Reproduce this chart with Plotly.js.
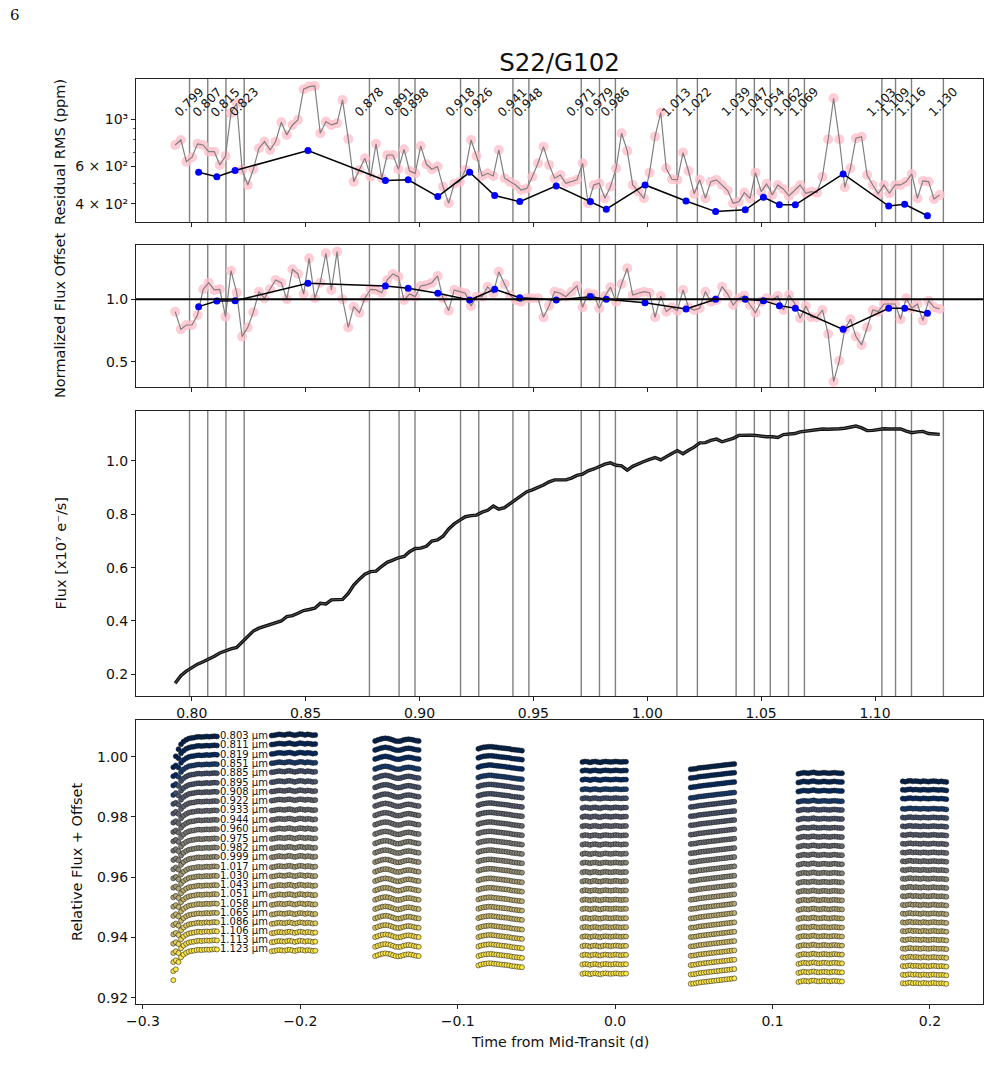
<!DOCTYPE html>
<html><head><meta charset="utf-8">
<script src="https://cdn.plot.ly/plotly-3.0.1.min.js"></script>
<style>body{margin:0;background:#fff}#chart{width:991px;height:1084px}</style>
</head><body><div id="chart"></div>
<script>
// ---------- spectral channels (micron) ----------
const wave = [0.7927,0.7952,0.7976,0.8001,0.8025,0.8050,0.8074,0.8099,0.8123,0.8148,0.8172,0.8197,0.8221,0.8246,0.8270,0.8295,0.8319,0.8344,0.8368,0.8393,0.8417,0.8442,0.8466,0.8491,0.8515,0.8540,0.8564,0.8589,0.8613,0.8638,0.8662,0.8687,0.8711,0.8736,0.8760,0.8785,0.8809,0.8834,0.8858,0.8883,0.8907,0.8932,0.8956,0.8981,0.9005,0.9030,0.9054,0.9079,0.9103,0.9128,0.9152,0.9177,0.9201,0.9226,0.9250,0.9275,0.9299,0.9324,0.9348,0.9373,0.9397,0.9422,0.9446,0.9471,0.9495,0.9520,0.9544,0.9569,0.9593,0.9618,0.9642,0.9667,0.9691,0.9716,0.9740,0.9765,0.9789,0.9814,0.9838,0.9863,0.9887,0.9912,0.9936,0.9961,0.9985,1.0010,1.0034,1.0059,1.0083,1.0108,1.0132,1.0157,1.0181,1.0206,1.0230,1.0255,1.0279,1.0304,1.0328,1.0353,1.0377,1.0402,1.0426,1.0451,1.0475,1.0500,1.0524,1.0549,1.0573,1.0598,1.0622,1.0647,1.0671,1.0696,1.0720,1.0745,1.0769,1.0794,1.0818,1.0843,1.0867,1.0892,1.0916,1.0941,1.0965,1.0990,1.1014,1.1039,1.1063,1.1088,1.1112,1.1137,1.1161,1.1186,1.1210,1.1235,1.1259,1.1284];
const rmsPink = [757,799,632,663,766,757,704,704,610,672,1067,1189,578,491,582,731,785,717,785,968,844,940,993,1384,1423,1433,859,975,940,958,1232,808,509,578,656,537,766,528,679,679,582,722,571,557,749,614,582,599,482,403,497,509,578,799,672,541,557,541,717,528,509,491,465,473,537,621,743,610,528,547,500,509,519,621,403,491,500,425,482,588,859,710,491,457,425,561,828,1074,588,522,519,697,571,446,519,425,509,519,491,462,403,410,452,425,561,457,497,441,491,469,436,462,491,449,457,452,537,805,1254,805,479,588,814,828,547,491,446,491,449,491,491,509,553,425,513,509,422,441];
const offPink = [0.901,0.759,0.794,0.794,0.874,1.080,1.133,1.075,1.080,0.861,1.229,1.053,0.701,0.775,0.896,1.061,1.008,1.080,1.155,1.133,1.000,1.240,1.203,1.042,1.328,1.008,1.133,1.368,1.075,1.382,1.000,0.775,0.941,0.893,1.008,1.080,1.075,1.053,1.155,1.203,1.181,0.994,1.042,1.021,1.107,1.115,1.133,1.187,1.008,0.909,1.075,1.061,1.048,0.946,1.021,1.021,1.101,1.048,1.221,1.123,1.034,0.994,0.981,1.008,1.008,1.008,0.856,0.948,1.061,1.048,1.021,1.061,1.107,0.936,1.048,1.040,0.928,1.026,1.096,0.981,1.123,1.248,1.034,1.048,1.061,1.053,0.856,1.026,0.901,0.936,0.909,1.075,0.936,0.914,0.928,1.061,0.981,0.994,1.101,1.042,0.954,1.008,1.029,0.954,0.893,0.981,1.008,0.994,1.026,0.914,1.034,0.968,0.848,0.946,0.856,0.856,0.914,0.722,0.340,0.508,0.759,0.840,0.701,0.634,0.775,0.914,0.901,0.962,0.962,0.962,0.840,1.008,0.928,0.962,0.829,0.989,0.936,0.922];
const fluxSpec = [0.166,0.195,0.212,0.225,0.238,0.247,0.256,0.268,0.280,0.289,0.295,0.301,0.322,0.343,0.362,0.373,0.380,0.387,0.394,0.400,0.416,0.420,0.429,0.439,0.443,0.448,0.466,0.464,0.479,0.479,0.481,0.503,0.535,0.557,0.575,0.585,0.587,0.605,0.620,0.628,0.637,0.642,0.660,0.672,0.673,0.680,0.700,0.704,0.718,0.745,0.764,0.778,0.791,0.795,0.797,0.808,0.815,0.831,0.819,0.825,0.840,0.854,0.868,0.885,0.892,0.900,0.910,0.922,0.929,0.929,0.929,0.936,0.946,0.951,0.963,0.970,0.979,0.988,0.993,0.984,0.982,0.966,0.980,0.990,0.998,1.006,1.013,1.004,1.017,1.028,1.039,1.027,1.040,1.052,1.068,1.069,1.077,1.082,1.072,1.078,1.085,1.096,1.098,1.097,1.096,1.093,1.091,1.091,1.088,1.099,1.100,1.103,1.109,1.112,1.115,1.119,1.120,1.119,1.119,1.121,1.123,1.127,1.131,1.124,1.114,1.115,1.118,1.121,1.120,1.120,1.120,1.112,1.106,1.109,1.111,1.103,1.100,1.100];

// ---------- bins ----------
const binEdges = [0.799,0.807,0.815,0.823,0.878,0.891,0.898,0.918,0.926,0.941,0.948,0.971,0.979,0.986,1.013,1.022,1.039,1.047,1.054,1.062,1.069,1.103,1.109,1.116,1.130];
const binCenters = [0.803,0.811,0.819,0.851,0.885,0.895,0.908,0.922,0.933,0.944,0.960,0.975,0.982,0.999,1.017,1.030,1.043,1.051,1.058,1.065,1.086,1.106,1.113,1.123];
const rmsBin = [563,537,574,712,515,519,433,563,438,410,486,410,378,491,413,368,375,430,396,396,553,391,398,352];
const offBin = [0.941,0.986,0.989,1.128,1.107,1.088,1.048,0.994,1.080,1.013,0.994,1.021,1.000,0.973,0.922,1.000,1.000,0.989,0.949,0.928,0.759,0.928,0.928,0.888];

// ---------- light curves ----------
const orbitStarts = [-0.2807,-0.2182,-0.1525,-0.0869,-0.0208,0.0480,0.1164,0.1827];
const expOffsets = [0,0.0016,0.0033,0.0049,0.0065,0.0082,0.0098,0.0114,0.0130,0.0147,0.0163,0.0179,0.0196,0.0212,0.0228,0.0245,0.0261,0.0277];
// level of each channel (top to bottom) in each orbit
const levelsO1 = [1.0063,1.0033,1.0002,0.9971,0.9941,0.9909,0.9879,0.9848,0.9817,0.9786,0.9755,0.9724,0.9694,0.9663,0.9631,0.9600,0.9569,0.9539,0.9508,0.9477,0.9446,0.9416,0.9386,0.9356];
const levelsO2 = [1.0072,1.0042,1.0011,0.9980,0.9950,0.9917,0.9886,0.9856,0.9823,0.9792,0.9760,0.9729,0.9698,0.9668,0.9635,0.9604,0.9572,0.9541,0.9510,0.9478,0.9447,0.9416,0.9386,0.9356];
const levelsO3 = [1.0055,1.0025,0.9995,0.9962,0.9932,0.9901,0.9870,0.9839,0.9808,0.9777,0.9746,0.9715,0.9684,0.9653,0.9621,0.9590,0.9559,0.9528,0.9497,0.9466,0.9435,0.9404,0.9372,0.9341];
const levelsO4 = [1.0028,0.9998,0.9967,0.9933,0.9903,0.9872,0.9841,0.9810,0.9778,0.9747,0.9716,0.9685,0.9654,0.9623,0.9591,0.9560,0.9528,0.9497,0.9466,0.9434,0.9403,0.9372,0.9340,0.9309];
const levelsO5 = [0.9982,0.9953,0.9923,0.9891,0.9861,0.9830,0.9800,0.9769,0.9738,0.9708,0.9677,0.9647,0.9616,0.9586,0.9555,0.9524,0.9494,0.9463,0.9433,0.9402,0.9371,0.9341,0.9310,0.9279];
const levelsO6 = [0.9967,0.9938,0.9907,0.9872,0.9842,0.9811,0.9781,0.9750,0.9719,0.9688,0.9658,0.9627,0.9596,0.9565,0.9534,0.9503,0.9472,0.9441,0.9410,0.9379,0.9348,0.9317,0.9286,0.9255];
const levelsO7 = [0.9945,0.9916,0.9886,0.9852,0.9823,0.9793,0.9763,0.9733,0.9703,0.9673,0.9643,0.9613,0.9583,0.9553,0.9523,0.9493,0.9463,0.9433,0.9403,0.9373,0.9343,0.9314,0.9284,0.9254];
const levelsO8 = [0.9917,0.9889,0.9860,0.9826,0.9797,0.9768,0.9739,0.9710,0.9681,0.9652,0.9623,0.9594,0.9565,0.9536,0.9507,0.9478,0.9449,0.9420,0.9391,0.9362,0.9333,0.9304,0.9275,0.9247];
const orbitLevels = [levelsO1,levelsO2,levelsO3,levelsO4,levelsO5,levelsO6,levelsO7,levelsO8];
const shapeO1 = [-0.0098,-0.0062,-0.0038,-0.0022,-0.0013,-0.0007,-0.0003,-0.0001,0.0000,0.0002,0.0003,0.0002,0.0003,0.0004,0.0003,0.0004,0.0005,0.0004];
const shapeO2 = [-0.0002,-0.0001,0.0001,0.0002,0.0001,0.0000,0.0002,0.0003,0.0001,-0.0001,0.0001,0.0003,0.0002,0.0000,0.0002,0.0001,-0.0001,0.0000];
const shapeO3 = [-0.0003,0.0000,0.0003,0.0005,0.0006,0.0005,0.0003,0.0000,-0.0003,-0.0004,-0.0003,0.0000,0.0002,0.0003,0.0002,0.0000,-0.0002,-0.0003];
const shapeO4 = [-0.0002,0.0001,0.0003,0.0004,0.0005,0.0005,0.0004,0.0003,0.0002,0.0001,0.0000,-0.0001,-0.0002,-0.0004,-0.0005,-0.0006,-0.0007,-0.0008];
const shapeO5 = [0.0000,0.0002,0.0001,-0.0001,0.0001,0.0002,0.0000,-0.0001,0.0001,0.0002,0.0001,0.0000,0.0001,0.0002,0.0001,0.0000,0.0001,0.0001];
const shapeO6 = [-0.0009,-0.0008,-0.0007,-0.0005,-0.0004,-0.0003,-0.0002,-0.0001,0.0000,0.0001,0.0002,0.0003,0.0004,0.0005,0.0006,0.0007,0.0008,0.0009];
const shapeO7 = [-0.0002,0.0000,0.0002,0.0001,0.0000,0.0002,0.0003,0.0001,0.0000,0.0001,0.0002,0.0001,0.0000,0.0001,0.0002,0.0001,0.0000,0.0000];
const shapeO8 = [0.0001,0.0000,0.0002,0.0003,0.0001,0.0002,0.0001,0.0000,0.0002,0.0001,0.0000,0.0001,0.0002,0.0001,0.0000,0.0001,0.0000,-0.0001];
const orbitShapes = [shapeO1,shapeO2,shapeO3,shapeO4,shapeO5,shapeO6,shapeO7,shapeO8];
const labelX = -0.2525;

const FONT = 'DejaVu Sans';
const traces = [];
// Panel 1: residual RMS
traces.push({x:wave,y:rmsPink,xaxis:'x2',yaxis:'y2',mode:'markers',marker:{color:'pink',size:10,opacity:0.8},hoverinfo:'skip'});
traces.push({x:wave,y:rmsPink,xaxis:'x2',yaxis:'y2',mode:'lines',line:{color:'gray',width:1.2},hoverinfo:'skip'});
traces.push({x:binCenters,y:rmsBin,xaxis:'x2',yaxis:'y2',mode:'lines+markers',line:{color:'black',width:1.5},marker:{color:'blue',size:7}});
// Panel 2: normalized flux offset
traces.push({x:wave,y:offPink,xaxis:'x3',yaxis:'y3',mode:'markers',marker:{color:'pink',size:10,opacity:0.8},hoverinfo:'skip'});
traces.push({x:wave,y:offPink,xaxis:'x3',yaxis:'y3',mode:'lines',line:{color:'gray',width:1.2},hoverinfo:'skip'});
traces.push({x:binCenters,y:offBin,xaxis:'x3',yaxis:'y3',mode:'lines+markers',line:{color:'black',width:1.5},marker:{color:'blue',size:7}});
// Panel 3: flux spectrum
traces.push({x:wave,y:fluxSpec,xaxis:'x',yaxis:'y',mode:'lines',line:{color:'#111',width:3.4}});
traces.push({x:wave,y:fluxSpec,xaxis:'x',yaxis:'y',mode:'lines',line:{color:'#555',width:1}});
// Panel 4: light curves
for (let c=0;c<binCenters.length;c++){
  const xs=[],ys=[];
  for (let o=0;o<orbitStarts.length;o++){
    for (let j=0;j<expOffsets.length;j++){
      xs.push(orbitStarts[o]+expOffsets[j]);
      ys.push(orbitLevels[o][c]+orbitShapes[o][j]);
    }
  }
  traces.push({x:xs,y:ys,xaxis:'x4',yaxis:'y4',mode:'markers',
    marker:{size:5,color:xs.map(()=>binCenters[c]),colorscale:'Cividis',cmin:binCenters[0],cmax:binCenters[binCenters.length-1],
      line:{width:0.7,color:'rgba(30,30,30,0.8)'}},hoverinfo:'skip'});
}

const H=1084,W=991;
const xd=[136/W,983/W];
const dom=(a,b)=>[1-b/H,1-a/H];
const common={showline:true,mirror:true,linecolor:'#222',linewidth:1,ticks:'outside',ticklen:4,tickwidth:1,tickcolor:'#222',
  showgrid:false,zeroline:false,tickfont:{family:FONT,size:14,color:'#111'},automargin:false};
const wRange=[0.7755,1.1474];
const wTicks=[0.80,0.85,0.90,0.95,1.00,1.05,1.10];

const shapes=[];
['y2','y3','y'].forEach(ya=>{
  binEdges.forEach(e=>shapes.push({type:'line',xref:'x',yref:ya+' domain',x0:e,x1:e,y0:0,y1:1,line:{color:'gray',width:1.4},layer:'below'}));
});
shapes.push({type:'line',xref:'x3 domain',yref:'y3',x0:0,x1:1,y0:1,y1:1,line:{color:'black',width:2}});

const annotations=[];
binEdges.forEach(e=>annotations.push({xref:'x2',yref:'y2',x:e,y:Math.log10(1200),text:e.toFixed(3),textangle:-45,showarrow:false,
  xanchor:'center',yanchor:'middle',font:{family:FONT,size:12.2,color:'#111'}}));
binCenters.forEach((c,i)=>annotations.push({xref:'x4',yref:'y4',x:labelX,y:levelsO1[i]+0.0006,text:c.toFixed(3)+' µm',
  showarrow:false,xanchor:'left',yanchor:'middle',font:{family:FONT,size:10,color:'#111'}}));
const ytitles=[['Residual RMS (ppm)',60,152],['Normalized Flux Offset',60,316],['Flux [x10⁷ e⁻/s]',60,553.5],['Relative Flux + Offset',77,862]];
ytitles.forEach(t=>annotations.push({xref:'paper',yref:'paper',x:t[1]/W,y:1-t[2]/H,text:t[0],textangle:-90,showarrow:false,
  xanchor:'center',yanchor:'middle',font:{family:FONT,size:14.5,color:'#111'}}));
annotations.push({xref:'paper',yref:'paper',x:559.5/W,y:1-1042/H,text:'Time from Mid-Transit (d)',showarrow:false,xanchor:'center',yanchor:'middle',font:{family:FONT,size:14.2,color:'#111'}});
annotations.push({xref:'paper',yref:'paper',x:8/W,y:1-15/H,text:'6',showarrow:false,xanchor:'left',yanchor:'middle',font:{family:'DejaVu Serif',size:15,color:'#111'}});

const layout={
  width:W,height:H,margin:{l:0,r:0,t:0,b:0},paper_bgcolor:'white',plot_bgcolor:'white',showlegend:false,
  font:{family:FONT,color:'#111'},
  title:{text:'S22/G102',x:559.5/W,xanchor:'center',y:1-62/H,yanchor:'middle',xref:'paper',yref:'paper',font:{family:FONT,size:24.5,color:'#111'}},
  xaxis:Object.assign({},common,{domain:xd,anchor:'y',range:wRange,tickvals:wTicks,tickformat:'.2f'}),
  yaxis:Object.assign({},common,{domain:dom(411,696),anchor:'x',range:[0.1186,1.1875],tickvals:[0.2,0.4,0.6,0.8,1.0],tickformat:'.1f'}),
  xaxis2:Object.assign({},common,{domain:xd,anchor:'y2',range:wRange,tickvals:wTicks,showticklabels:false}),
  yaxis2:Object.assign({},common,{domain:dom(79,222),anchor:'x2',type:'log',range:[2.517,3.189],
    tickvals:[400,600,1000],ticktext:['4 × 10²','6 × 10²','10³'],
    minor:{tickvals:[500,700,800,900],ticks:'outside',ticklen:2.5,tickwidth:0.8,tickcolor:'#222'}}),
  xaxis3:Object.assign({},common,{domain:xd,anchor:'y3',range:wRange,tickvals:wTicks,showticklabels:false}),
  yaxis3:Object.assign({},common,{domain:dom(245,387),anchor:'x3',range:[0.297,1.435],tickvals:[0.5,1.0],tickformat:'.1f'}),
  xaxis4:Object.assign({},common,{domain:xd,anchor:'y4',range:[-0.3044,0.2337],tickvals:[-0.3,-0.2,-0.1,0,0.1,0.2],tickformat:'.1f'}),
  yaxis4:Object.assign({},common,{domain:dom(720,1004),anchor:'x4',range:[0.9179,1.01217],tickvals:[0.92,0.94,0.96,0.98,1.00],tickformat:'.2f'}),
  shapes:shapes,annotations:annotations
};
Plotly.newPlot('chart',traces,layout,{staticPlot:true,displayModeBar:false});
</script></body></html>
